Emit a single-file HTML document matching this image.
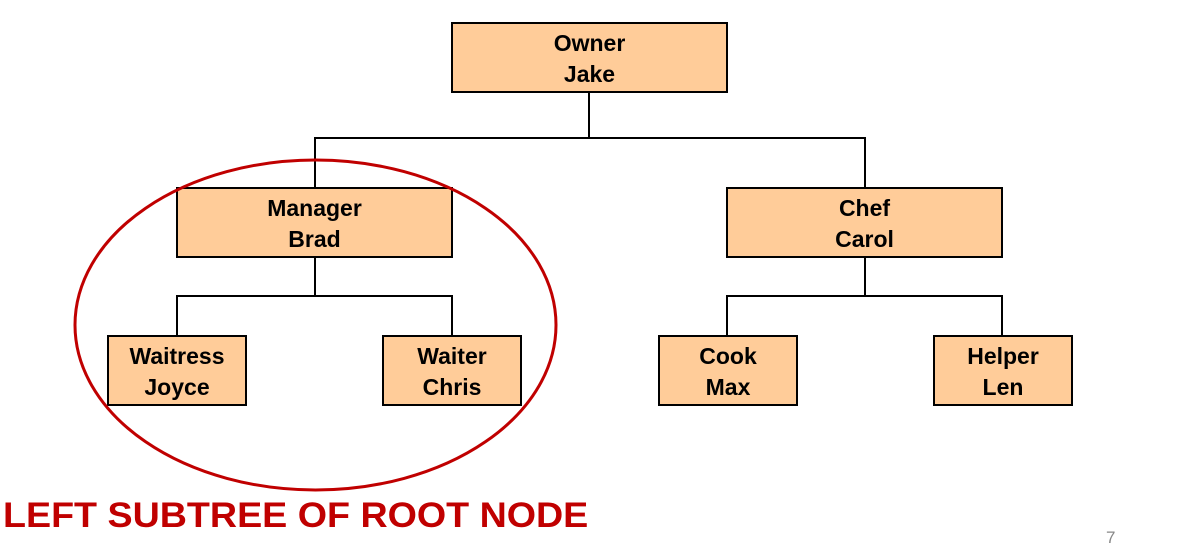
<!DOCTYPE html>
<html><head><style>
body{margin:0;width:1177px;height:552px;background:#fff;overflow:hidden;position:relative;font-family:"Liberation Sans",sans-serif}
.b{position:absolute;background:#FFCC99;border:2px solid #000;box-sizing:border-box;text-align:center;font-weight:bold;font-size:23px;line-height:31px;padding-top:4px;color:#000}
.l{position:absolute;background:#000}
</style></head><body>
<div class="l" style="left:588px;top:92px;width:2px;height:47px"></div>
<div class="l" style="left:314px;top:137px;width:552px;height:2px"></div>
<div class="l" style="left:314px;top:137px;width:2px;height:52px"></div>
<div class="l" style="left:864px;top:137px;width:2px;height:52px"></div>
<div class="l" style="left:314px;top:256px;width:2px;height:41px"></div>
<div class="l" style="left:176px;top:295px;width:277px;height:2px"></div>
<div class="l" style="left:176px;top:295px;width:2px;height:42px"></div>
<div class="l" style="left:451px;top:295px;width:2px;height:42px"></div>
<div class="l" style="left:864px;top:256px;width:2px;height:41px"></div>
<div class="l" style="left:726px;top:295px;width:277px;height:2px"></div>
<div class="l" style="left:726px;top:295px;width:2px;height:42px"></div>
<div class="l" style="left:1001px;top:295px;width:2px;height:42px"></div>
<div class="b" style="left:451px;top:22px;width:277px;height:71px">Owner<br>Jake</div>
<div class="b" style="left:176px;top:187px;width:277px;height:71px">Manager<br>Brad</div>
<div class="b" style="left:726px;top:187px;width:277px;height:71px">Chef<br>Carol</div>
<div class="b" style="left:107px;top:335px;width:140px;height:71px">Waitress<br>Joyce</div>
<div class="b" style="left:382px;top:335px;width:140px;height:71px">Waiter<br>Chris</div>
<div class="b" style="left:658px;top:335px;width:140px;height:71px">Cook<br>Max</div>
<div class="b" style="left:933px;top:335px;width:140px;height:71px">Helper<br>Len</div>
<svg style="position:absolute;left:0;top:0" width="1177" height="552"><ellipse cx="315.5" cy="325" rx="240.5" ry="165" fill="none" stroke="#C00000" stroke-width="3"/></svg>
<div style="position:absolute;left:3px;top:496px;font-size:35px;font-weight:bold;color:#C00000;white-space:nowrap;transform:scaleX(1.075);transform-origin:0 0">LEFT SUBTREE OF ROOT NODE</div>
<div style="position:absolute;left:1106px;top:528px;font-size:17px;color:#888">7</div>
</body></html>
